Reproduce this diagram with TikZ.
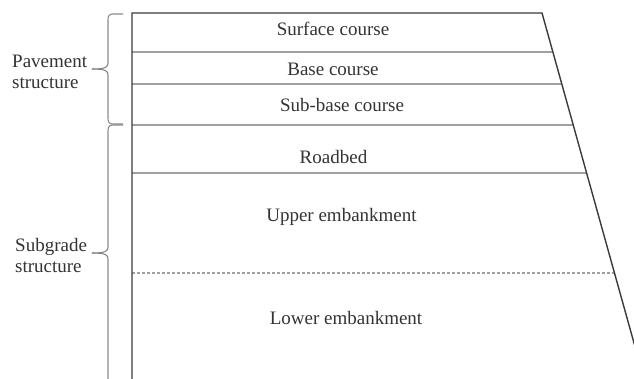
\documentclass[tikz,border=0pt]{standalone}
\usepackage{fontspec}
\setmainfont{Liberation Serif}
\definecolor{darkline}{HTML}{3A3A3A}
\definecolor{lightline}{HTML}{A0A0A0}
\definecolor{bracecol}{HTML}{8A8A8A}
\definecolor{txt}{HTML}{333333}
\begin{document}
\begin{tikzpicture}[x=1pt,y=-1pt,
  lbl/.style={text=txt,font=\fontsize{19}{21}\selectfont,inner sep=0pt},
  sidelbl/.style={lbl,align=left,anchor=west},
  outer/.style={draw=darkline,line width=1.4pt},
  layer/.style={draw=lightline,line width=1.3pt},
  brc/.style={draw=bracecol,line width=1.1pt}]
\useasboundingbox (0,0) rectangle (634,378);
\clip (0,0) rectangle (634,378);
% corner coordinates
\coordinate (tl) at (132,13);
\coordinate (tr) at (542,13);
\coordinate (bl) at (132,385);
\coordinate (br) at (636.5,352);
\coordinate (l1) at (132,52);  \coordinate (r1) at (552.8,52);
\coordinate (l2) at (132,84);  \coordinate (r2) at (561.7,84);
\coordinate (l3) at (132,125); \coordinate (r3) at (573.1,125);
\coordinate (l4) at (132,173); \coordinate (r4) at (586.4,173);
\coordinate (l5) at (132,273); \coordinate (r5) at (614.1,273);
% layer lines
\draw[layer] (l1) -- (r1);
\draw[layer] (l2) -- (r2);
\draw[layer] (l3) -- (r3);
\draw[layer] (l4) -- (r4);
\draw[draw=lightline,line width=1.2pt,dash pattern=on 3pt off 2pt] (l5) -- (r5);
% outline
\draw[outer] (bl) -- (tl) -- (tr) -- (br);
% braces
\coordinate (b1t) at (123,14);
\coordinate (b1m) at (92,69);
\coordinate (b1b) at (123,124);
\coordinate (b2t) at (123,125);
\coordinate (b2m) at (92,253);
\coordinate (b2b) at (123,390);
\draw[brc] (b1t) -- (113,14) .. controls (109,14) and (108,16) .. (108,20)
  -- (108,63) .. controls (108,67) and (106,69) .. (b1m);
\draw[brc] (b1b) -- (113,124) .. controls (109,124) and (108,122) .. (108,118)
  -- (108,75) .. controls (108,71) and (106,69) .. (b1m);
\draw[brc] (b2t) -- (113,125) .. controls (109,125) and (108,127) .. (108,131)
  -- (108,247) .. controls (108,251) and (106,253) .. (b2m);
\draw[brc] (b2b) -- (113,390) .. controls (109,390) and (108,388) .. (108,384)
  -- (108,259) .. controls (108,255) and (106,253) .. (b2m);
% labels
\node[lbl] (surf) at (333,29) {Surface course};
\node[lbl] (base) at (333,69) {Base course};
\node[lbl] (sub) at (342,105) {Sub-base course};
\node[lbl] (road) at (333.5,157) {Roadbed};
\node[lbl] (upper) at (341.5,217) {Upper embankment};
\node[lbl] (lower) at (346,318) {Lower embankment};
\node[sidelbl] (pave) at (12,72) {Pavement\\structure};
\node[sidelbl] (subg) at (15,255) {Subgrade\\structure};
\end{tikzpicture}
\end{document}
